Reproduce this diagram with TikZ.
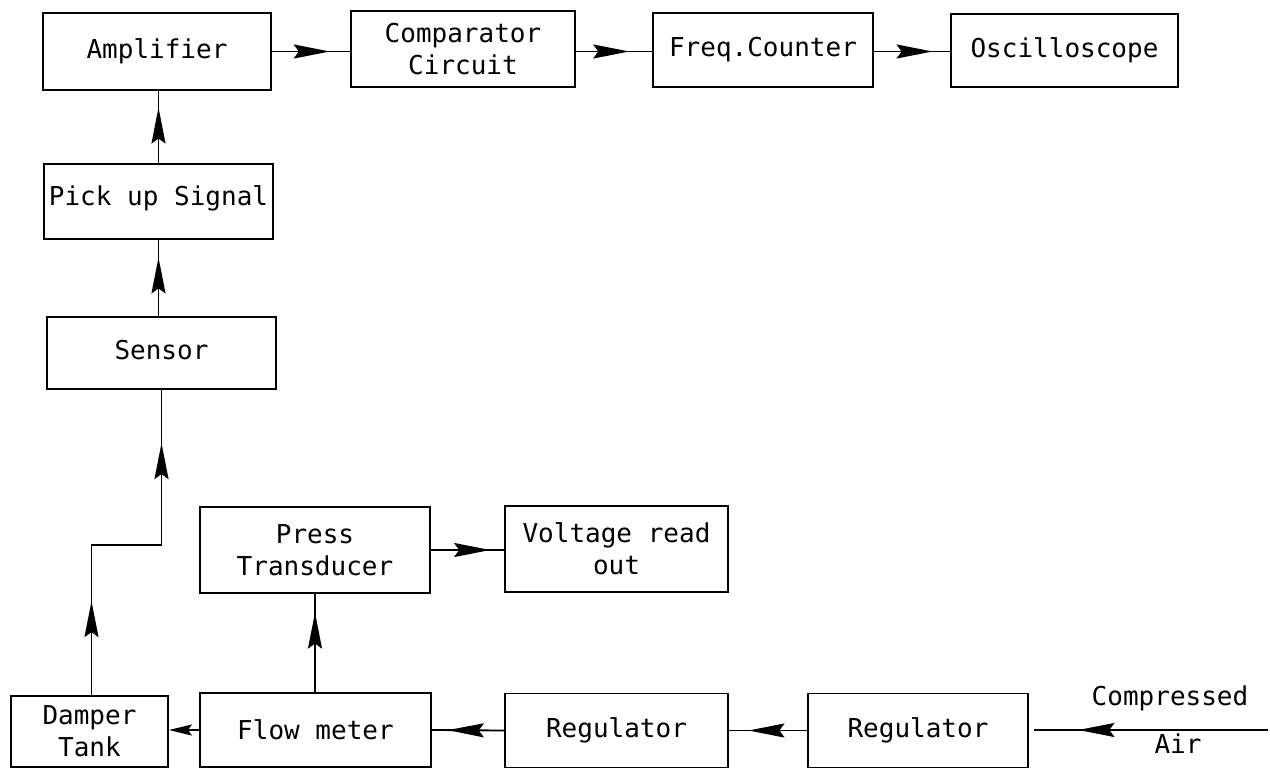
\documentclass[tikz,border=0pt]{standalone}
\usepackage{fontspec}
\setmonofont{DejaVu Sans Mono}
\usetikzlibrary{arrows.meta,decorations.markings,positioning}

\begin{document}
\begin{tikzpicture}[
  x=1pt, y=-1pt, line width=1.8pt,
  >={Stealth[length=36pt,width=14pt,inset=5pt]},
  box/.style={draw, line width=1.8pt, align=center, inner sep=0pt,
              font=\fontsize{26}{32}\selectfont\ttfamily},
  lbl/.style={font=\fontsize{26}{32}\selectfont\ttfamily, inner sep=0pt},
  midarrow/.style={postaction={decorate},
                   decoration={markings, mark=at position #1 with {\arrow{>}}}},
]
  \useasboundingbox (0,0) rectangle (1270,768);

  % Signal chain along the top.
  \node[box, minimum width=228pt, minimum height=77pt] (amp) at (157,51.5) {Amplifier};
  \node[box, minimum width=224pt, minimum height=76pt] (comp) at (463,49) {Comparator\\Circuit};
  \node[box, minimum width=220pt, minimum height=74pt] (freq) at (763,50) {Freq.Counter};
  \node[box, minimum width=227pt, minimum height=73pt] (osc) at (1064.5,50.5) {Oscilloscope};
  \draw[midarrow=0.74] (amp.east) -- (amp.east -| comp.west);
  \draw[midarrow=0.7] (comp.east |- amp.east) -- (amp.east -| freq.west);
  \draw[midarrow=0.77] (freq.east |- amp.east) -- (amp.east -| osc.west);

  % Sensor side.
  \node[box, minimum width=229pt, minimum height=75pt] (pick) at (158.5,201.5)
    {\raisebox{11pt}{Pick up Signal}};
  \node[box, minimum width=229pt, minimum height=72pt] (sensor) at (161.5,353)
    {\raisebox{7pt}{Sensor}};
  \draw[midarrow=0.77] (pick.north) -- (pick.north |- amp.south);
  \draw[midarrow=0.77] (pick.south |- sensor.north) -- (pick.south);

  % Pressure measurement.
  \node[box, minimum width=230pt, minimum height=86pt] (press) at (315,550) {Press\\Transducer};
  \node[box, minimum width=223pt, minimum height=86pt] (volt) at (616.5,549) {Voltage read\\out};
  \draw[midarrow=0.81] (press.east) -- (press.east -| volt.west);

  % Air supply line along the bottom.
  \node[box, minimum width=157pt, minimum height=71pt] (damper) at (89.5,731.5) {Damper\\Tank};
  \node[box, minimum width=231pt, minimum height=74pt] (flowm) at (315.5,730) {Flow meter};
  \node[box, minimum width=223pt, minimum height=74pt] (rega) at (616.5,730.5) {Regulator};
  \node[box, minimum width=220pt, minimum height=74pt] (regb) at (918,730.5) {Regulator};
  \coordinate (air) at (1268,730);
  \node[lbl] (compressed) at (1170,698) {Compressed};
  \node[lbl] (airtext) at (1178,744) {Air};
  \draw[midarrow=0.81] (air) -- ([xshift=5pt]regb.east |- air);
  \draw[midarrow=0.75] (regb.west) -- (rega.east);
  \draw[midarrow=0.78] (rega.west) -- (flowm.east);
  \draw[-{Stealth[length=23pt,width=11pt,inset=4pt]}] (flowm.west) -- (flowm.west -| damper.east);
  \draw[midarrow=0.81] (flowm.north -| press.south) -- (press.south);
  \draw[postaction={decorate},
        decoration={markings, mark=at position 94pt with {\arrow{>}},
                    mark=at position 322pt with {\arrow{>}}}]
    ([xshift=2pt]damper.north) -- ++(0,-150) -| (sensor.south);
\end{tikzpicture}
\end{document}
